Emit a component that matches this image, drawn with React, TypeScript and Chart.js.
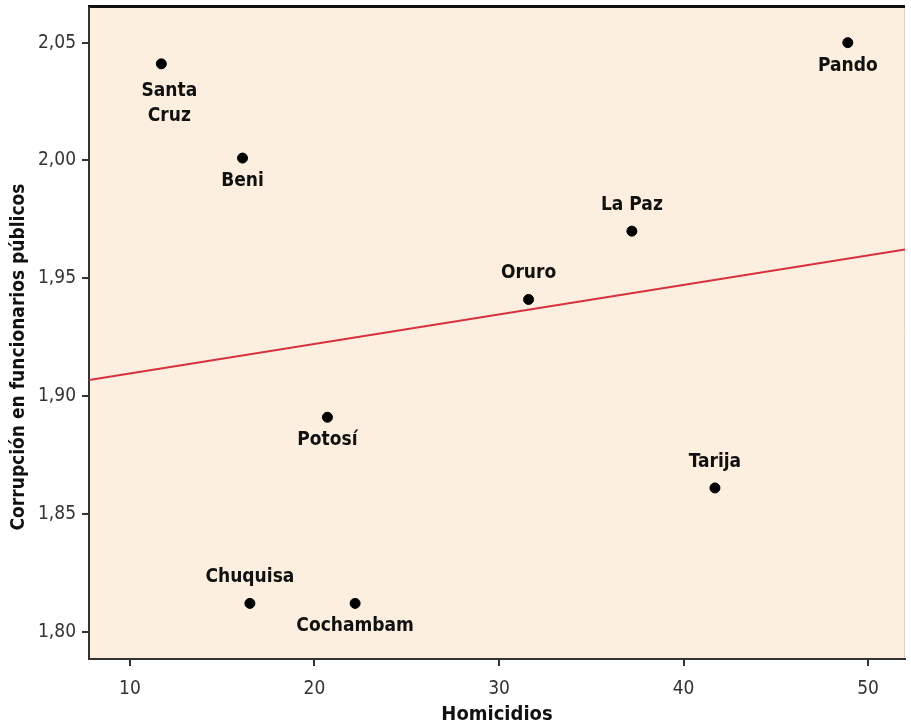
import React, { useEffect, useRef } from "react";
import { Chart, registerables } from "chart.js";

Chart.register(...registerables);

const regions = ["Santa\nCruz", "Beni", "Pando", "La Paz", "Oruro", "Potosí", "Tarija", "Chuquisa", "Cochambam"];
const homicidios = [11.7, 16.1, 48.9, 37.2, 31.6, 20.7, 41.7, 16.5, 22.2];
const corrupcion = [2.041, 2.001, 2.05, 1.97, 1.941, 1.891, 1.861, 1.812, 1.812];
const labelSide = ["below", "below", "below", "above", "above", "below", "above", "above", "below"];
const fitX = [7.78, 52.0];
const fitY = [1.9068, 1.9622];
const xTicks = [10, 20, 30, 40, 50];
const yTicks = [1.8, 1.85, 1.9, 1.95, 2.0, 2.05];
const yTitle = "Corrupción en funcionarios públicos";

const FONT = "'Liberation Sans Narrow', 'DejaVu Sans Condensed', sans-serif";

const bgPlugin = {
  id: "bgPlugin",
  beforeDraw(chart: any) {
    const { ctx, chartArea: a } = chart;
    ctx.save();
    ctx.fillStyle = "#fcefdf";
    ctx.fillRect(a.left, a.top, a.right - a.left, a.bottom - a.top);
    ctx.strokeStyle = "#ddd2c4";
    ctx.lineWidth = 1;
    ctx.beginPath();
    ctx.moveTo(a.right - 0.5, a.top);
    ctx.lineTo(a.right - 0.5, a.bottom);
    ctx.stroke();
    ctx.fillStyle = "#111";
    ctx.fillRect(a.left - 1, a.top - 3, a.right - a.left + 1, 3);
    ctx.restore();
  },
  afterDraw(chart: any) {
    const { ctx } = chart;
    ctx.save();
    ctx.translate(19, 357);
    ctx.rotate(-Math.PI / 2);
    ctx.font = `bold 19px ${FONT}`;
    ctx.fillStyle = "#111";
    ctx.textAlign = "center";
    ctx.textBaseline = "middle";
    ctx.fillText(yTitle, 0, 0);
    ctx.restore();
  },
};

const labelPlugin = {
  id: "labelPlugin",
  afterDatasetsDraw(chart: any) {
    const { ctx } = chart;
    const meta = chart.getDatasetMeta(1);
    ctx.save();
    ctx.font = `bold 19px ${FONT}`;
    ctx.fillStyle = "#111";
    ctx.textAlign = "center";
    ctx.textBaseline = "middle";
    meta.data.forEach((pt: any, i: number) => {
      const lines = regions[i].split("\n");
      const multi = lines.length > 1;
      const dx = multi ? 8 : 0;
      if (labelSide[i] === "below") {
        const off = multi ? 27 : 23;
        lines.forEach((l, j) => ctx.fillText(l, pt.x + dx, pt.y + off + j * 25));
      } else {
        lines.forEach((l, j) => ctx.fillText(l, pt.x + dx, pt.y - 26 - (lines.length - 1 - j) * 25));
      }
    });
    ctx.restore();
  },
};

export default function App() {
  const ref = useRef<HTMLCanvasElement>(null);
  useEffect(() => {
    if (!ref.current) return;
    const chart = new Chart(ref.current, {
      type: "scatter",
      data: {
        datasets: [
          {
            type: "line",
            data: fitX.map((x, i) => ({ x, y: fitY[i] })),
            borderColor: "#d8303f",
            borderWidth: 2,
            pointRadius: 0,
            fill: false,
          } as any,
          {
            data: homicidios.map((x, i) => ({ x, y: corrupcion[i] })),
            backgroundColor: "#000",
            borderColor: "#000",
            pointRadius: 5,
          },
        ],
      },
      options: {
        animation: false,
        responsive: false,
        layout: { padding: { top: 8, right: 4, left: 0, bottom: 0 } },
        plugins: { legend: { display: false }, tooltip: { enabled: false } },
        scales: {
          x: {
            type: "linear",
            min: 7.78,
            max: 52.0,
            afterBuildTicks: (s: any) => {
              s.ticks = xTicks.map((v) => ({ value: v }));
            },
            afterFit: (s: any) => {
              s.height = 68;
              s.paddingLeft = 0;
              s.paddingRight = 0;
            },
            grid: { drawOnChartArea: false, drawTicks: true, tickLength: 7, color: "#333", lineWidth: 2 },
            border: { color: "#333", width: 2 },
            ticks: {
              color: "#333",
              padding: 12,
              font: { family: FONT, size: 19 },
              callback: (v: any) => String(v),
            },
            title: {
              display: true,
              text: "Homicidios",
              color: "#111",
              font: { family: FONT, size: 20, weight: "bold" },
              padding: { top: 0, bottom: 0 },
            },
          },
          y: {
            type: "linear",
            min: 1.7884,
            max: 2.0647,
            afterBuildTicks: (s: any) => {
              s.ticks = yTicks.map((v) => ({ value: v }));
            },
            afterFit: (s: any) => {
              s.width = 89;
              s.paddingTop = 0;
              s.paddingBottom = 0;
            },
            grid: { drawOnChartArea: false, drawTicks: true, tickLength: 7, color: "#333", lineWidth: 2 },
            border: { color: "#333", width: 2 },
            ticks: {
              color: "#333",
              padding: 6,
              font: { family: FONT, size: 19 },
              callback: (v: any) => Number(v).toFixed(2).replace(".", ","),
            },
            title: { display: false },
          },
        },
      },
      plugins: [bgPlugin, labelPlugin],
    });
    return () => chart.destroy();
  }, []);
  return (
    <div style={{ position: "fixed", left: 0, top: 0, width: 911, height: 727, background: "#fff" }}>
      <canvas ref={ref} width={911} height={727} style={{ display: "block" }} />
    </div>
  );
}
